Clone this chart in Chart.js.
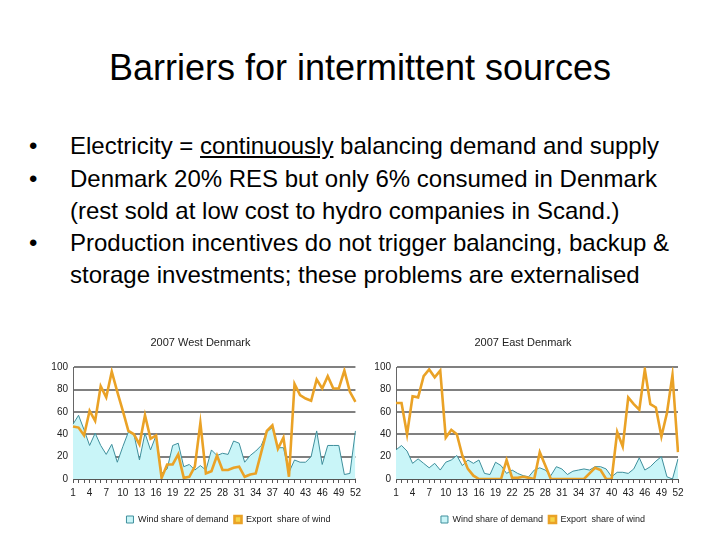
<!DOCTYPE html>
<html><head><meta charset="utf-8">
<script src="https://cdn.jsdelivr.net/npm/chart.js@4"></script>
<style>
body{margin:0;width:720px;height:540px;background:#fff;position:relative;overflow:hidden;font-family:'Liberation Sans',Arial,sans-serif;color:#000}
.t{position:absolute;white-space:nowrap;line-height:1}
#title{left:0;width:720px;text-align:center;top:50px;font-size:36px}
.b{font-size:24px}
.box{position:absolute}
u{text-underline-offset:2px}
</style></head>
<body>
<div id="title" class="t">Barriers for intermittent sources</div>
<div class="t b" style="left:29px;top:134px">•</div>
<div class="t b" style="left:70px;top:134px">Electricity = <u>continuously</u> balancing demand and supply</div>
<div class="t b" style="left:29px;top:167px">•</div>
<div class="t b" style="left:70px;top:167px">Denmark 20% RES but only 6% consumed in Denmark</div>
<div class="t b" style="left:70px;top:199px">(rest sold at low cost to hydro companies in Scand.)</div>
<div class="t b" style="left:29px;top:231px">•</div>
<div class="t b" style="left:70px;top:231px">Production incentives do not trigger balancing, backup &amp;</div>
<div class="t b" style="left:70px;top:263px">storage investments; these problems are externalised</div>

<div class="box" style="left:45px;top:330px;width:320px;height:200px"><canvas id="west"></canvas></div>
<div class="box" style="left:368px;top:330px;width:320px;height:200px"><canvas id="east"></canvas></div>

<script>
const weeks = [1,2,3,4,5,6,7,8,9,10,11,12,13,14,15,16,17,18,19,20,21,22,23,24,25,26,27,28,29,30,31,32,33,34,35,36,37,38,39,40,41,42,43,44,45,46,47,48,49,50,51,52];
const seriesNames = ['Wind share of demand', 'Export  share of wind'];
const chartTitles = ['2007 West Denmark', '2007 East Denmark'];

const westWind   = [49,57,44,30,41,30,22,31,15,29,42,40,17,41,26,39,5,9,30,32,11,13,8,12,8,26,21,23,22,34,32,15,21,25,30,42,46,28,28,6,17,15,15,20,43,13,30,30,30,4,5,43];
const westExport = [47,46,39,61,52,83,73,96,78,61,43,40,31,57,36,39,1,13,13,22,1,2,11,50,5,7,21,8,8,10,11,2,4,5,24,43,48,27,37,2,85,75,72,70,89,81,92,81,81,97,78,69];
const eastWind   = [26,30,25,14,18,14,10,14,8,15,17,21,12,17,14,17,5,4,15,12,5,8,5,3,2,8,10,8,3,11,9,4,7,8,9,8,11,11,9,2,6,6,5,9,19,8,11,16,20,2,0,18];
const eastExport = [68,68,40,74,73,92,98,91,97,37,44,40,21,9,3,0,0,0,0,0,17,1,1,2,1,0,24,12,0,0,0,0,0,0,0,5,10,8,0,0,42,29,73,67,62,98,67,64,38,59,93,24];

const FONT = "'Liberation Sans Narrow','Liberation Sans',Arial,sans-serif";

function makeChart(id, title, wind, exp, padRight, legendShift) {
  new Chart(document.getElementById(id), {
    type: 'line',
    data: {
      labels: weeks,
      datasets: [
        {label: seriesNames[0], data: wind, borderColor: '#3f8f9c', backgroundColor: '#c9f5f8',
         borderWidth: 1, fill: 'origin', pointRadius: 0, tension: 0, order: 1},
        {label: seriesNames[1], data: exp, borderColor: '#eaa226', backgroundColor: '#f5d547',
         borderWidth: 2.6, fill: false, pointRadius: 0, tension: 0, order: 0}
      ]
    },
    plugins: [{
      id: 'legendShift',
      afterLayout(chart) {
        const lg = chart.legend;
        lg.left += legendShift; lg.right += legendShift;
        lg.top += 4; lg.bottom += 4;
      }
    }],
    options: {
      responsive: true, maintainAspectRatio: false, animation: false,
      layout: {padding: {left: 0, right: padRight, top: 0, bottom: 0}},
      plugins: {
        tooltip: {enabled: false},
        title: {display: true, text: title, color: '#222', font: {family: FONT, size: 11, weight: 'normal'},
                padding: {top: 6, bottom: 18}},
        legend: {position: 'bottom',
                 labels: {boxWidth: 7, boxHeight: 7, color: '#222', padding: 6,
                          font: {family: FONT, size: 9},
                          sort: (a, b) => a.datasetIndex - b.datasetIndex}}
      },
      scales: {
        x: {
          grid: {drawOnChartArea: false, drawTicks: true, tickLength: 4, color: '#555'},
          border: {color: '#555', width: 1},
          ticks: {autoSkip: false, maxRotation: 0, minRotation: 0, padding: 4, color: '#222',
                  font: {family: FONT, size: 10},
                  callback: (v, i) => (i % 3 === 0 ? weeks[i] : '')},
          afterFit: s => { s.height = 26; }
        },
        y: {
          min: 0, max: 100,
          grid: {color: '#808080', lineWidth: 2, drawTicks: false},
          border: {color: '#666', width: 1},
          ticks: {stepSize: 20, padding: 5, color: '#222', font: {family: FONT, size: 10}},
          afterFit: s => { s.width = 28; }
        }
      }
    }
  });
}

makeChart('west', chartTitles[0], westWind, westExport, 9, 28);
makeChart('east', chartTitles[1], eastWind, eastExport, 10, 20);
</script>
</body></html>
